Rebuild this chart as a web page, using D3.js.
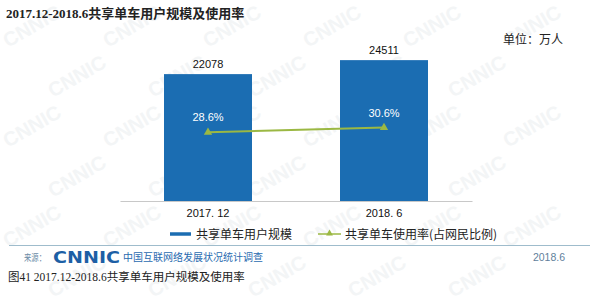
<!DOCTYPE html>
<html>
<head>
<meta charset="utf-8">
<script src="https://cdn.jsdelivr.net/npm/d3@7"></script>
<style>
  body { margin: 0; background: #fff; }
  svg { display: block; }
</style>
</head>
<body>
<svg id="chart" width="600" height="304"></svg>
<script>
// données : utilisateurs de vélos partagés (万人) et taux d'utilisation
var periods = ["2017. 12", "2018. 6"];
var users = [22078, 24511];
var rates = [28.6, 30.6];
var rateLabels = ["28.6%", "30.6%"];

var cjk = "'Noto Sans CJK SC', 'Noto Sans', sans-serif";
var serif = "'Liberation Serif', 'DejaVu Serif', 'Noto Sans CJK SC', serif";
var sans = "'Liberation Sans', Arial, 'Noto Sans CJK SC', sans-serif";

var blue = "#1b6db2";
var green = "#9bb843";

var svg = d3.select("#chart");

// filigrane CNNIC, très pâle
var wm = svg.append("g")
  .attr("font-family", sans)
  .attr("font-weight", "bold")
  .attr("font-size", 20)
  .attr("fill", "#f3f5f6");
for (var r = 0; r < 6; r++) {
  for (var c = 0; c < 6; c++) {
    var wx = 8 + c * 100 + (r % 2) * 45;
    var wy = 48 + r * 50;
    if (wx > 530 || wy > 300) continue;
    wm.append("text")
      .attr("transform", `translate(${wx},${wy}) rotate(-30)`)
      .text("CNNIC");
  }
}

// titre
svg.append("text")
  .attr("x", 6).attr("y", 18)
  .attr("font-family", serif)
  .attr("font-weight", "bold")
  .attr("font-size", 13)
  .attr("fill", "#222")
  .text("2017.12-2018.6共享单车用户规模及使用率");

svg.append("text")
  .attr("x", 563).attr("y", 44)
  .attr("text-anchor", "end")
  .attr("font-family", cjk)
  .attr("font-size", 12)
  .attr("fill", "#222")
  .text("单位：万人");

// échelles
var x = d3.scaleBand()
  .domain(periods)
  .range([120, 472])
  .paddingInner(0.5)
  .paddingOuter(0.25);

var yUsers = d3.scaleLinear()
  .domain([0, 30000])
  .range([201, 201 - 30000 / 174]);

var yRate = d3.scaleLinear()
  .domain([0, 60])
  .range([201, 201 - 60 * 2.4]);

// barres
svg.append("g")
  .selectAll("rect")
  .data(users)
  .join("rect")
  .attr("x", (d, i) => x(periods[i]))
  .attr("y", d => yUsers(d))
  .attr("width", x.bandwidth())
  .attr("height", d => yUsers(0) - yUsers(d))
  .attr("fill", blue);

svg.append("g")
  .attr("font-family", sans)
  .attr("font-size", 11)
  .attr("text-anchor", "middle")
  .attr("fill", "#111")
  .selectAll("text")
  .data(users)
  .join("text")
  .attr("x", (d, i) => x(periods[i]) + x.bandwidth() / 2)
  .attr("y", d => yUsers(d) - 6)
  .text(d => d);

// axe x
var xAxis = svg.append("g")
  .attr("transform", "translate(0,201)")
  .call(d3.axisBottom(x).tickSize(0).tickPadding(8));
xAxis.select(".domain").attr("stroke", "#c8c8c8").attr("stroke-width", 1.2);
xAxis.selectAll("text")
  .attr("font-family", sans)
  .attr("font-size", 11)
  .attr("fill", "#111");

// ligne du taux
var line = d3.line()
  .x((d, i) => x(periods[i]) + x.bandwidth() / 2)
  .y(d => yRate(d));

svg.append("path")
  .datum(rates)
  .attr("d", line)
  .attr("fill", "none")
  .attr("stroke", green)
  .attr("stroke-width", 2);

var tri = d3.symbol().type(d3.symbolTriangle).size(30);
svg.append("g")
  .selectAll("path")
  .data(rates)
  .join("path")
  .attr("transform", (d, i) => `translate(${x(periods[i]) + x.bandwidth() / 2},${yRate(d)})`)
  .attr("d", tri)
  .attr("fill", green);

svg.append("g")
  .attr("font-family", sans)
  .attr("font-size", 11)
  .attr("text-anchor", "middle")
  .attr("fill", "#fff")
  .selectAll("text")
  .data(rates)
  .join("text")
  .attr("x", (d, i) => x(periods[i]) + x.bandwidth() / 2)
  .attr("y", d => yRate(d) - 11)
  .text((d, i) => rateLabels[i]);

// légende
var leg = svg.append("g").attr("font-family", cjk).attr("font-size", 12).attr("fill", "#222");
leg.append("line")
  .attr("x1", 170).attr("x2", 191).attr("y1", 234).attr("y2", 234)
  .attr("stroke", blue).attr("stroke-width", 3.5);
leg.append("text").attr("x", 196).attr("y", 238.5).text("共享单车用户规模");
leg.append("line")
  .attr("x1", 318).attr("x2", 341).attr("y1", 234).attr("y2", 234)
  .attr("stroke", green).attr("stroke-width", 1.5);
leg.append("path")
  .attr("transform", "translate(329.5,233.5)")
  .attr("d", d3.symbol().type(d3.symbolTriangle).size(20))
  .attr("fill", green);
leg.append("text").attr("x", 345).attr("y", 238.5).text("共享单车使用率(占网民比例)");

// source
svg.append("line")
  .attr("x1", 9).attr("x2", 590).attr("y1", 245.5).attr("y2", 245.5)
  .attr("stroke", "#9fbccc").attr("stroke-width", 1.2);

svg.append("text")
  .attr("x", 24).attr("y", 261)
  .attr("font-family", cjk)
  .attr("font-size", 9.5)
  .attr("textLength", 22)
  .attr("lengthAdjust", "spacingAndGlyphs")
  .attr("fill", "#6b8aa6")
  .text("来源：");

svg.append("text")
  .attr("x", 53).attr("y", 263)
  .attr("font-family", "'DejaVu Sans', sans-serif")
  .attr("font-weight", "bold")
  .attr("font-size", 15)
  .attr("textLength", 67)
  .attr("lengthAdjust", "spacingAndGlyphs")
  .attr("fill", "#1d5fa5")
  .text("CNNIC");

svg.append("text")
  .attr("x", 123).attr("y", 261)
  .attr("font-family", cjk)
  .attr("font-size", 10)
  .attr("fill", "#2a6bb0")
  .text("中国互联网络发展状况统计调查");

svg.append("text")
  .attr("x", 565).attr("y", 261)
  .attr("text-anchor", "end")
  .attr("font-family", sans)
  .attr("font-size", 10.5)
  .attr("fill", "#5f7f9c")
  .text("2018.6");

svg.append("text")
  .attr("x", 8).attr("y", 281)
  .attr("font-family", serif)
  .attr("font-size", 11.5)
  .attr("fill", "#222")
  .text("图41  2017.12-2018.6共享单车用户规模及使用率");
</script>
</body>
</html>
